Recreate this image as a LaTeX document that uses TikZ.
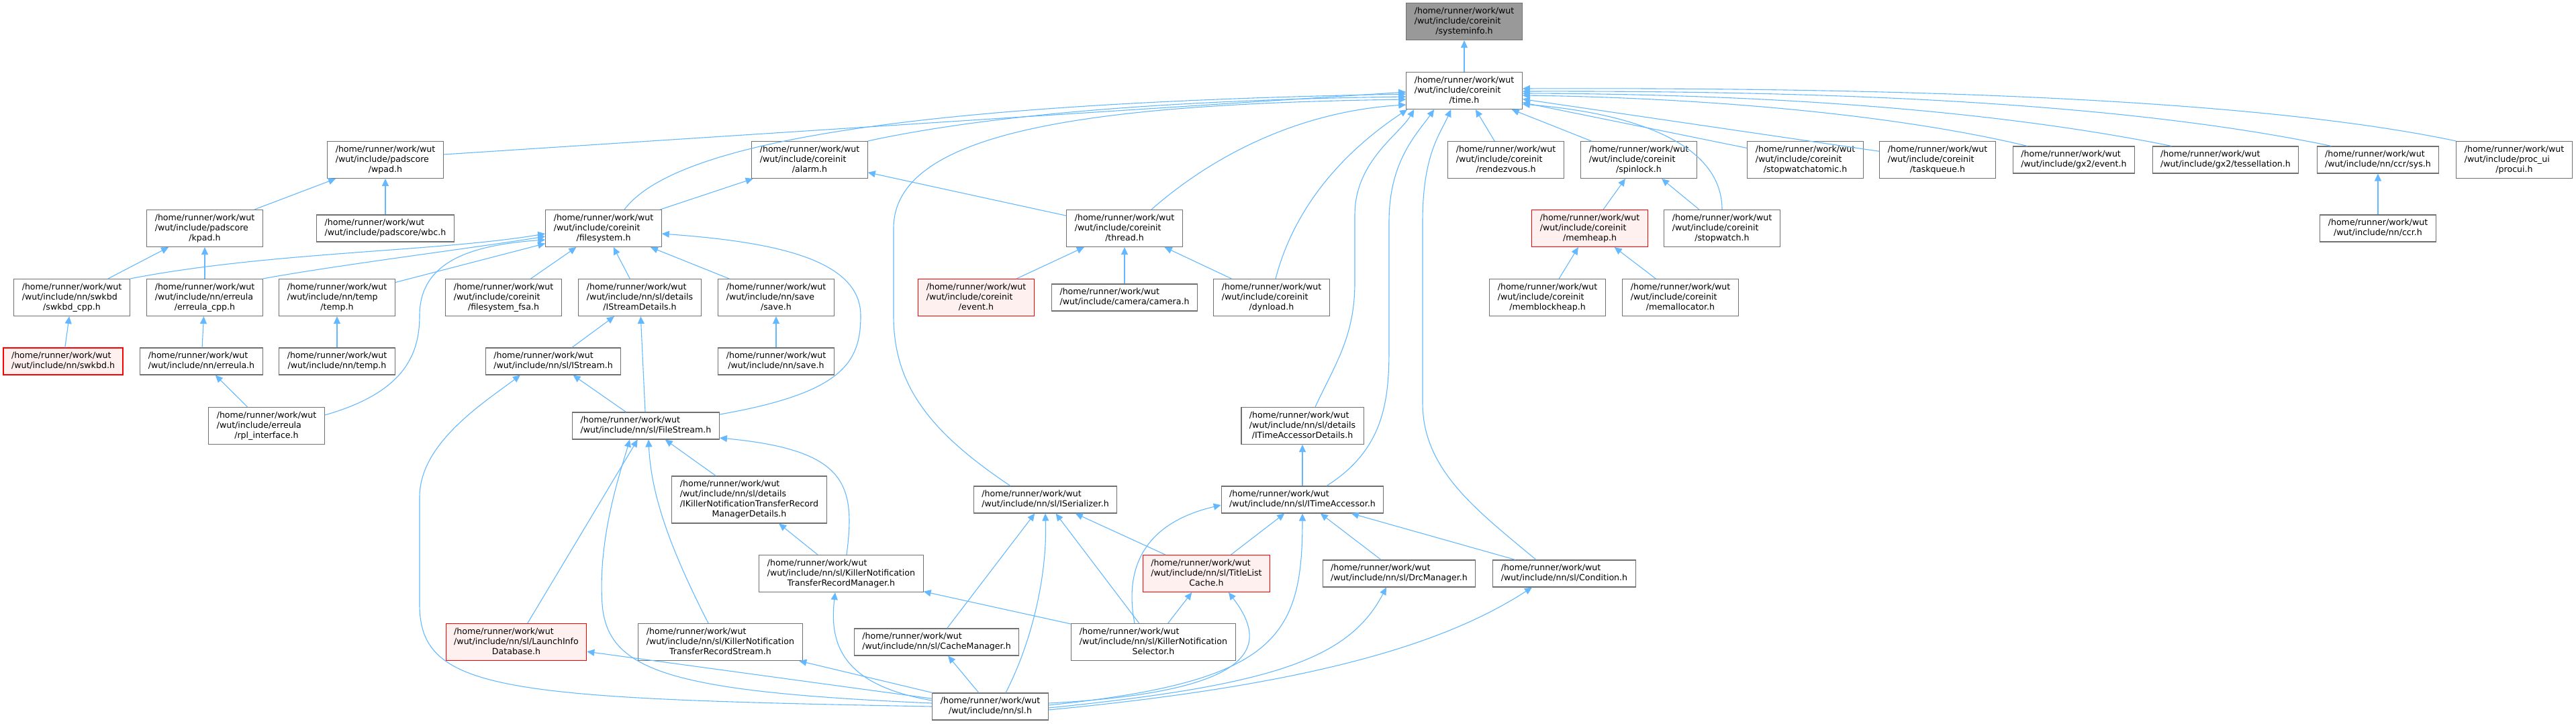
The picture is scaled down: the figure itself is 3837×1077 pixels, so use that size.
\documentclass[tikz,border=0pt]{standalone}
\usepackage{fontspec}
\setmainfont{DejaVu Sans}
\usetikzlibrary{arrows.meta}

\definecolor{edgeblue}{HTML}{63B8FF}
\definecolor{boxgray}{HTML}{707070}
\definecolor{rootfill}{HTML}{999999}
\definecolor{redfill}{HTML}{FFF0F0}

% header labels: every line left aligned, the last one centred
\newcommand{\lft}[1]{\multicolumn{1}{@{}l@{}}{#1}}
\newcommand{\hdrb}[1]{\begin{tabular}{@{}c@{}}\lft{/home/runner/work/wut}\\#1\end{tabular}}
\newcommand{\hdrc}[2]{\begin{tabular}{@{}c@{}}\lft{/home/runner/work/wut}\\\lft{#1}\\#2\end{tabular}}
\newcommand{\hdrd}[3]{\begin{tabular}{@{}c@{}}\lft{/home/runner/work/wut}\\\lft{#1}\\\lft{#2}\\#3\end{tabular}}

\begin{document}
\begin{tikzpicture}[
    x=1pt, y=1pt,
    hdr/.style={draw=boxgray, fill=white, line width=1.1pt, inner xsep=12pt, inner ysep=5pt,
        font=\fontsize{12.6}{15}\selectfont},
    rootfile/.style={hdr, fill=rootfill},
    redfile/.style={hdr, draw=red, fill=redfill},
    dep/.style={draw=edgeblue, line width=1.1pt, -{Triangle[length=11pt, width=10pt]}}
]
\useasboundingbox (0,0) rectangle (3837,-1077);

% ============ ROOT ============
\node[rootfile] (sysinfo) at (2181,-32) {\hdrc{/wut/include/coreinit}{/systeminfo.h}};
\node[hdr] (time) at (2181,-135) {\hdrc{/wut/include/coreinit}{/time.h}};

% ============ RANK 1 ============
\node[hdr] (wpad) at (574,-238) {\hdrc{/wut/include/padscore}{/wpad.h}};
\node[hdr] (alarm) at (1206,-238) {\hdrc{/wut/include/coreinit}{/alarm.h}};
\node[hdr] (rendez) at (2243,-238) {\hdrc{/wut/include/coreinit}{/rendezvous.h}};
\node[hdr] (spin) at (2441,-238) {\hdrc{/wut/include/coreinit}{/spinlock.h}};
\node[hdr] (swatomic) at (2689,-238) {\hdrc{/wut/include/coreinit}{/stopwatchatomic.h}};
\node[hdr] (taskq) at (2886,-238) {\hdrc{/wut/include/coreinit}{/taskqueue.h}};
\node[hdr] (gxevent) at (3089,-238) {\hdrb{/wut/include/gx2/event.h}};
\node[hdr] (tess) at (3315,-238) {\hdrb{/wut/include/gx2/tessellation.h}};
\node[hdr] (ccrsys) at (3542,-238) {\hdrb{/wut/include/nn/ccr/sys.h}};
\node[hdr] (procui) at (3745,-238) {\hdrc{/wut/include/proc\_ui}{/procui.h}};

% ============ RANK 2 ============
\node[hdr] (kpad) at (305,-340) {\hdrc{/wut/include/padscore}{/kpad.h}};
\node[hdr] (wbc) at (574,-340) {\hdrb{/wut/include/padscore/wbc.h}};
\node[hdr] (fs) at (899,-340) {\hdrc{/wut/include/coreinit}{/filesystem.h}};
\node[hdr] (thread) at (1675,-340) {\hdrc{/wut/include/coreinit}{/thread.h}};
\node[redfile] (memheap) at (2368,-340) {\hdrc{/wut/include/coreinit}{/memheap.h}};
\node[hdr] (swatch) at (2565,-340) {\hdrc{/wut/include/coreinit}{/stopwatch.h}};
\node[hdr] (ccr) at (3542,-340) {\hdrb{/wut/include/nn/ccr.h}};

% ============ RANK 3 ============
\node[hdr] (swkbdcpp) at (107,-443) {\hdrc{/wut/include/nn/swkbd}{/swkbd\_cpp.h}};
\node[hdr] (erreulacpp) at (305,-443) {\hdrc{/wut/include/nn/erreula}{/erreula\_cpp.h}};
\node[hdr] (temph) at (502,-443) {\hdrc{/wut/include/nn/temp}{/temp.h}};
\node[hdr] (fsfsa) at (750,-443) {\hdrc{/wut/include/coreinit}{/filesystem\_fsa.h}};
\node[hdr] (isdetails) at (953,-443) {\hdrc{/wut/include/nn/sl/details}{/IStreamDetails.h}};
\node[hdr] (saveh) at (1156,-443) {\hdrc{/wut/include/nn/save}{/save.h}};
\node[redfile] (event) at (1454,-443) {\hdrc{/wut/include/coreinit}{/event.h}};
\node[hdr] (camera) at (1675,-443) {\hdrb{/wut/include/camera/camera.h}};
\node[hdr] (dynload) at (1894,-443) {\hdrc{/wut/include/coreinit}{/dynload.h}};
\node[hdr] (memblock) at (2305,-443) {\hdrc{/wut/include/coreinit}{/memblockheap.h}};
\node[hdr] (memalloc) at (2503,-443) {\hdrc{/wut/include/coreinit}{/memallocator.h}};

% ============ RANK 4 ============
\node[redfile] (swkbd) at (94,-538) {\hdrb{/wut/include/nn/swkbd.h}};
\node[hdr] (erreula) at (300,-538) {\hdrb{/wut/include/nn/erreula.h}};
\node[hdr] (nntemp) at (502,-538) {\hdrb{/wut/include/nn/temp.h}};
\node[hdr] (istream) at (824,-538) {\hdrb{/wut/include/nn/sl/IStream.h}};
\node[hdr] (nnsave) at (1156,-538) {\hdrb{/wut/include/nn/save.h}};

% ============ RANK 5 ============
\node[hdr] (rpl) at (397,-634) {\hdrc{/wut/include/erreula}{/rpl\_interface.h}};
\node[hdr] (filestream) at (962,-634) {\hdrb{/wut/include/nn/sl/FileStream.h}};
\node[hdr] (itadetails) at (1940,-634) {\hdrc{/wut/include/nn/sl/details}{/ITimeAccessorDetails.h}};

% ============ RANK 6 ============
\node[hdr] (iktrmdetails) at (1116,-744) {\hdrd{/wut/include/nn/sl/details}{/IKillerNotificationTransferRecord}{ManagerDetails.h}};
\node[hdr] (iserial) at (1557,-744) {\hdrb{/wut/include/nn/sl/ISerializer.h}};
\node[hdr] (itacc) at (1940,-744) {\hdrb{/wut/include/nn/sl/ITimeAccessor.h}};

% ============ RANK 7 ============
\node[hdr] (kntrm) at (1253,-854) {\hdrc{/wut/include/nn/sl/KillerNotification}{TransferRecordManager.h}};
\node[redfile] (tlcache) at (1797,-854) {\hdrc{/wut/include/nn/sl/TitleList}{Cache.h}};
\node[hdr] (drc) at (2084,-854) {\hdrb{/wut/include/nn/sl/DrcManager.h}};
\node[hdr] (cond) at (2330,-854) {\hdrb{/wut/include/nn/sl/Condition.h}};

% ============ RANK 8 ============
\node[redfile] (launch) at (769,-956) {\hdrc{/wut/include/nn/sl/LaunchInfo}{Database.h}};
\node[hdr] (kntrs) at (1073,-956) {\hdrc{/wut/include/nn/sl/KillerNotification}{TransferRecordStream.h}};
\node[hdr] (cachemgr) at (1395,-956) {\hdrb{/wut/include/nn/sl/CacheManager.h}};
\node[hdr] (selector) at (1718,-956) {\hdrc{/wut/include/nn/sl/KillerNotification}{Selector.h}};

% ============ RANK 9 ============
\node[hdr] (sl) at (1475,-1052) {\hdrb{/wut/include/nn/sl.h}};

% ============ STRAIGHT EDGES ============
\foreach \a/\b in {time/sysinfo, kpad/wpad, wbc/wpad, swkbdcpp/kpad, erreulacpp/kpad,
    fs/alarm, thread/alarm, temph/fs, fsfsa/fs, isdetails/fs, saveh/fs,
    event/thread, camera/thread, dynload/thread, rendez/time, spin/time,
    swatomic/time, taskq/time, memheap/spin, swatch/spin, memblock/memheap,
    memalloc/memheap, ccr/ccrsys, swkbd/swkbdcpp, erreula/erreulacpp,
    nntemp/temph, nnsave/saveh, rpl/erreula, istream/isdetails,
    filestream/isdetails, filestream/istream, launch/filestream,
    iktrmdetails/filestream, kntrm/iktrmdetails, itacc/itadetails,
    selector/kntrm, cachemgr/iserial, selector/iserial, tlcache/iserial,
    selector/tlcache, tlcache/itacc, drc/itacc, cond/itacc,
    sl/launch, sl/kntrs, sl/cachemgr} {
    \draw[dep] (\a) -- (\b);
}

% ============ EDGES INTO time.h ============
\draw[dep] ([yshift=8pt]wpad.east) -- ([yshift=-2pt]time.west);
\draw[dep] ([xshift=31pt]fs.north) .. controls (1000,-220) and (1300,-155) .. ([yshift=-5pt]time.west);
\draw[dep] (alarm.north east) .. controls (1500,-165) and (1800,-148) .. ([yshift=-9pt]time.west);
\draw[dep] ([xshift=-52pt]iserial.north) .. controls (1380,-640) and (1331,-570) .. (1331,-470)
    -- (1331,-340) .. controls (1331,-200) and (1600,-155) .. ([yshift=-13pt]time.west);
\draw[dep] ([xshift=40pt]thread.north) .. controls (1820,-220) and (1950,-165) .. ([yshift=-21pt]time.west);
\draw[dep] ([xshift=6pt]dynload.north) .. controls (1930,-300) and (2010,-220) .. ([xshift=2pt]time.south west);
\draw[dep] ([xshift=19pt]itadetails.north) .. controls (1990,-540) and (2018,-500) .. (2018,-420)
    -- (2018,-320) .. controls (2018,-240) and (2085,-200) .. ([xshift=12pt]time.south west);
\draw[dep] ([xshift=36pt]itacc.north) .. controls (2060,-670) and (2069,-600) .. (2069,-520)
    -- (2069,-330) .. controls (2069,-240) and (2110,-200) .. ([xshift=42pt]time.south west);
\draw[dep] ([xshift=-42pt]cond.north) .. controls (2200,-760) and (2119,-700) .. (2119,-600)
    -- (2119,-330) .. controls (2119,-230) and (2145,-200) .. ([xshift=67pt]time.south west);
\draw[dep] (swatch.north) .. controls (2565,-220) and (2450,-170) .. ([yshift=-20pt]time.east);
\draw[dep] ([xshift=22pt]gxevent.north west) .. controls (2800,-165) and (2500,-145) .. ([yshift=-7pt]time.east);
\draw[dep] ([xshift=29pt]tess.north west) .. controls (2950,-160) and (2600,-140) .. ([yshift=-4pt]time.east);
\draw[dep] ([xshift=22pt]ccrsys.north west) .. controls (3150,-150) and (2700,-135) .. ([yshift=-1pt]time.east);
\draw[dep] (procui.north west) .. controls (3350,-145) and (2800,-130) .. ([yshift=3pt]time.east);

% ============ CURVED EDGES, LEFT PART ============
\draw[dep] (swkbdcpp.north east) .. controls (400,-375) and (650,-375) .. ([yshift=-8pt]fs.west);
\draw[dep] (erreulacpp.north east) .. controls (500,-395) and (700,-370) .. ([yshift=-12pt]fs.west);
\draw[dep] ([yshift=16pt]rpl.east) .. controls (600,-585) and (625,-530) .. (625,-470)
    .. controls (625,-390) and (700,-365) .. ([yshift=-17pt]fs.west);
\draw[dep] ([yshift=17pt]filestream.east) .. controls (1255,-585) and (1282,-540) .. (1282,-470)
    .. controls (1282,-385) and (1150,-360) .. ([yshift=-8pt]fs.east);

% ============ CURVED EDGES FROM nn/sl.h ============
\draw[dep] (sl.west) .. controls (750,-1040) and (625,-1030) .. (625,-900)
    -- (625,-740) .. controls (625,-660) and (720,-600) .. ([xshift=-49pt]istream.south);
\draw[dep] ([yshift=5pt]sl.west) .. controls (1000,-1030) and (905,-1000) .. (897,-900)
    .. controls (890,-800) and (925,-700) .. ([xshift=-24pt]filestream.south);
\draw[dep] ([yshift=9pt]sl.west) .. controls (1255,-1020) and (1235,-960) .. ([xshift=-9pt]kntrm.south);
\draw[dep] ([xshift=23pt]sl.north) .. controls (1540,-950) and (1560,-850) .. (iserial.south);
\draw[dep] ([yshift=5pt]sl.east) .. controls (1880,-1030) and (1890,-960) .. ([xshift=33pt]tlcache.south);
\draw[dep] ([yshift=2pt]sl.east) .. controls (1900,-1015) and (1940,-950) .. (itacc.south);
\draw[dep] ([yshift=-2pt]sl.east) .. controls (1900,-1020) and (2010,-980) .. ([xshift=-19pt]drc.south);
\draw[dep] ([yshift=-5pt]sl.east) .. controls (1950,-1020) and (2150,-960) .. ([xshift=-48pt]cond.south);

% ============ OTHER CURVES ============
\draw[dep] ([xshift=-18pt]kntrs.north) .. controls (1000,-820) and (970,-740) .. ([xshift=4pt]filestream.south);
\draw[dep] ([xshift=8pt]kntrm.north) .. controls (1275,-720) and (1260,-670) .. ([yshift=-18pt]filestream.east);
\draw[dep] ([xshift=-28pt]selector.north) .. controls (1675,-850) and (1700,-780) .. ([yshift=-8pt]itacc.west);

\end{tikzpicture}
\end{document}
